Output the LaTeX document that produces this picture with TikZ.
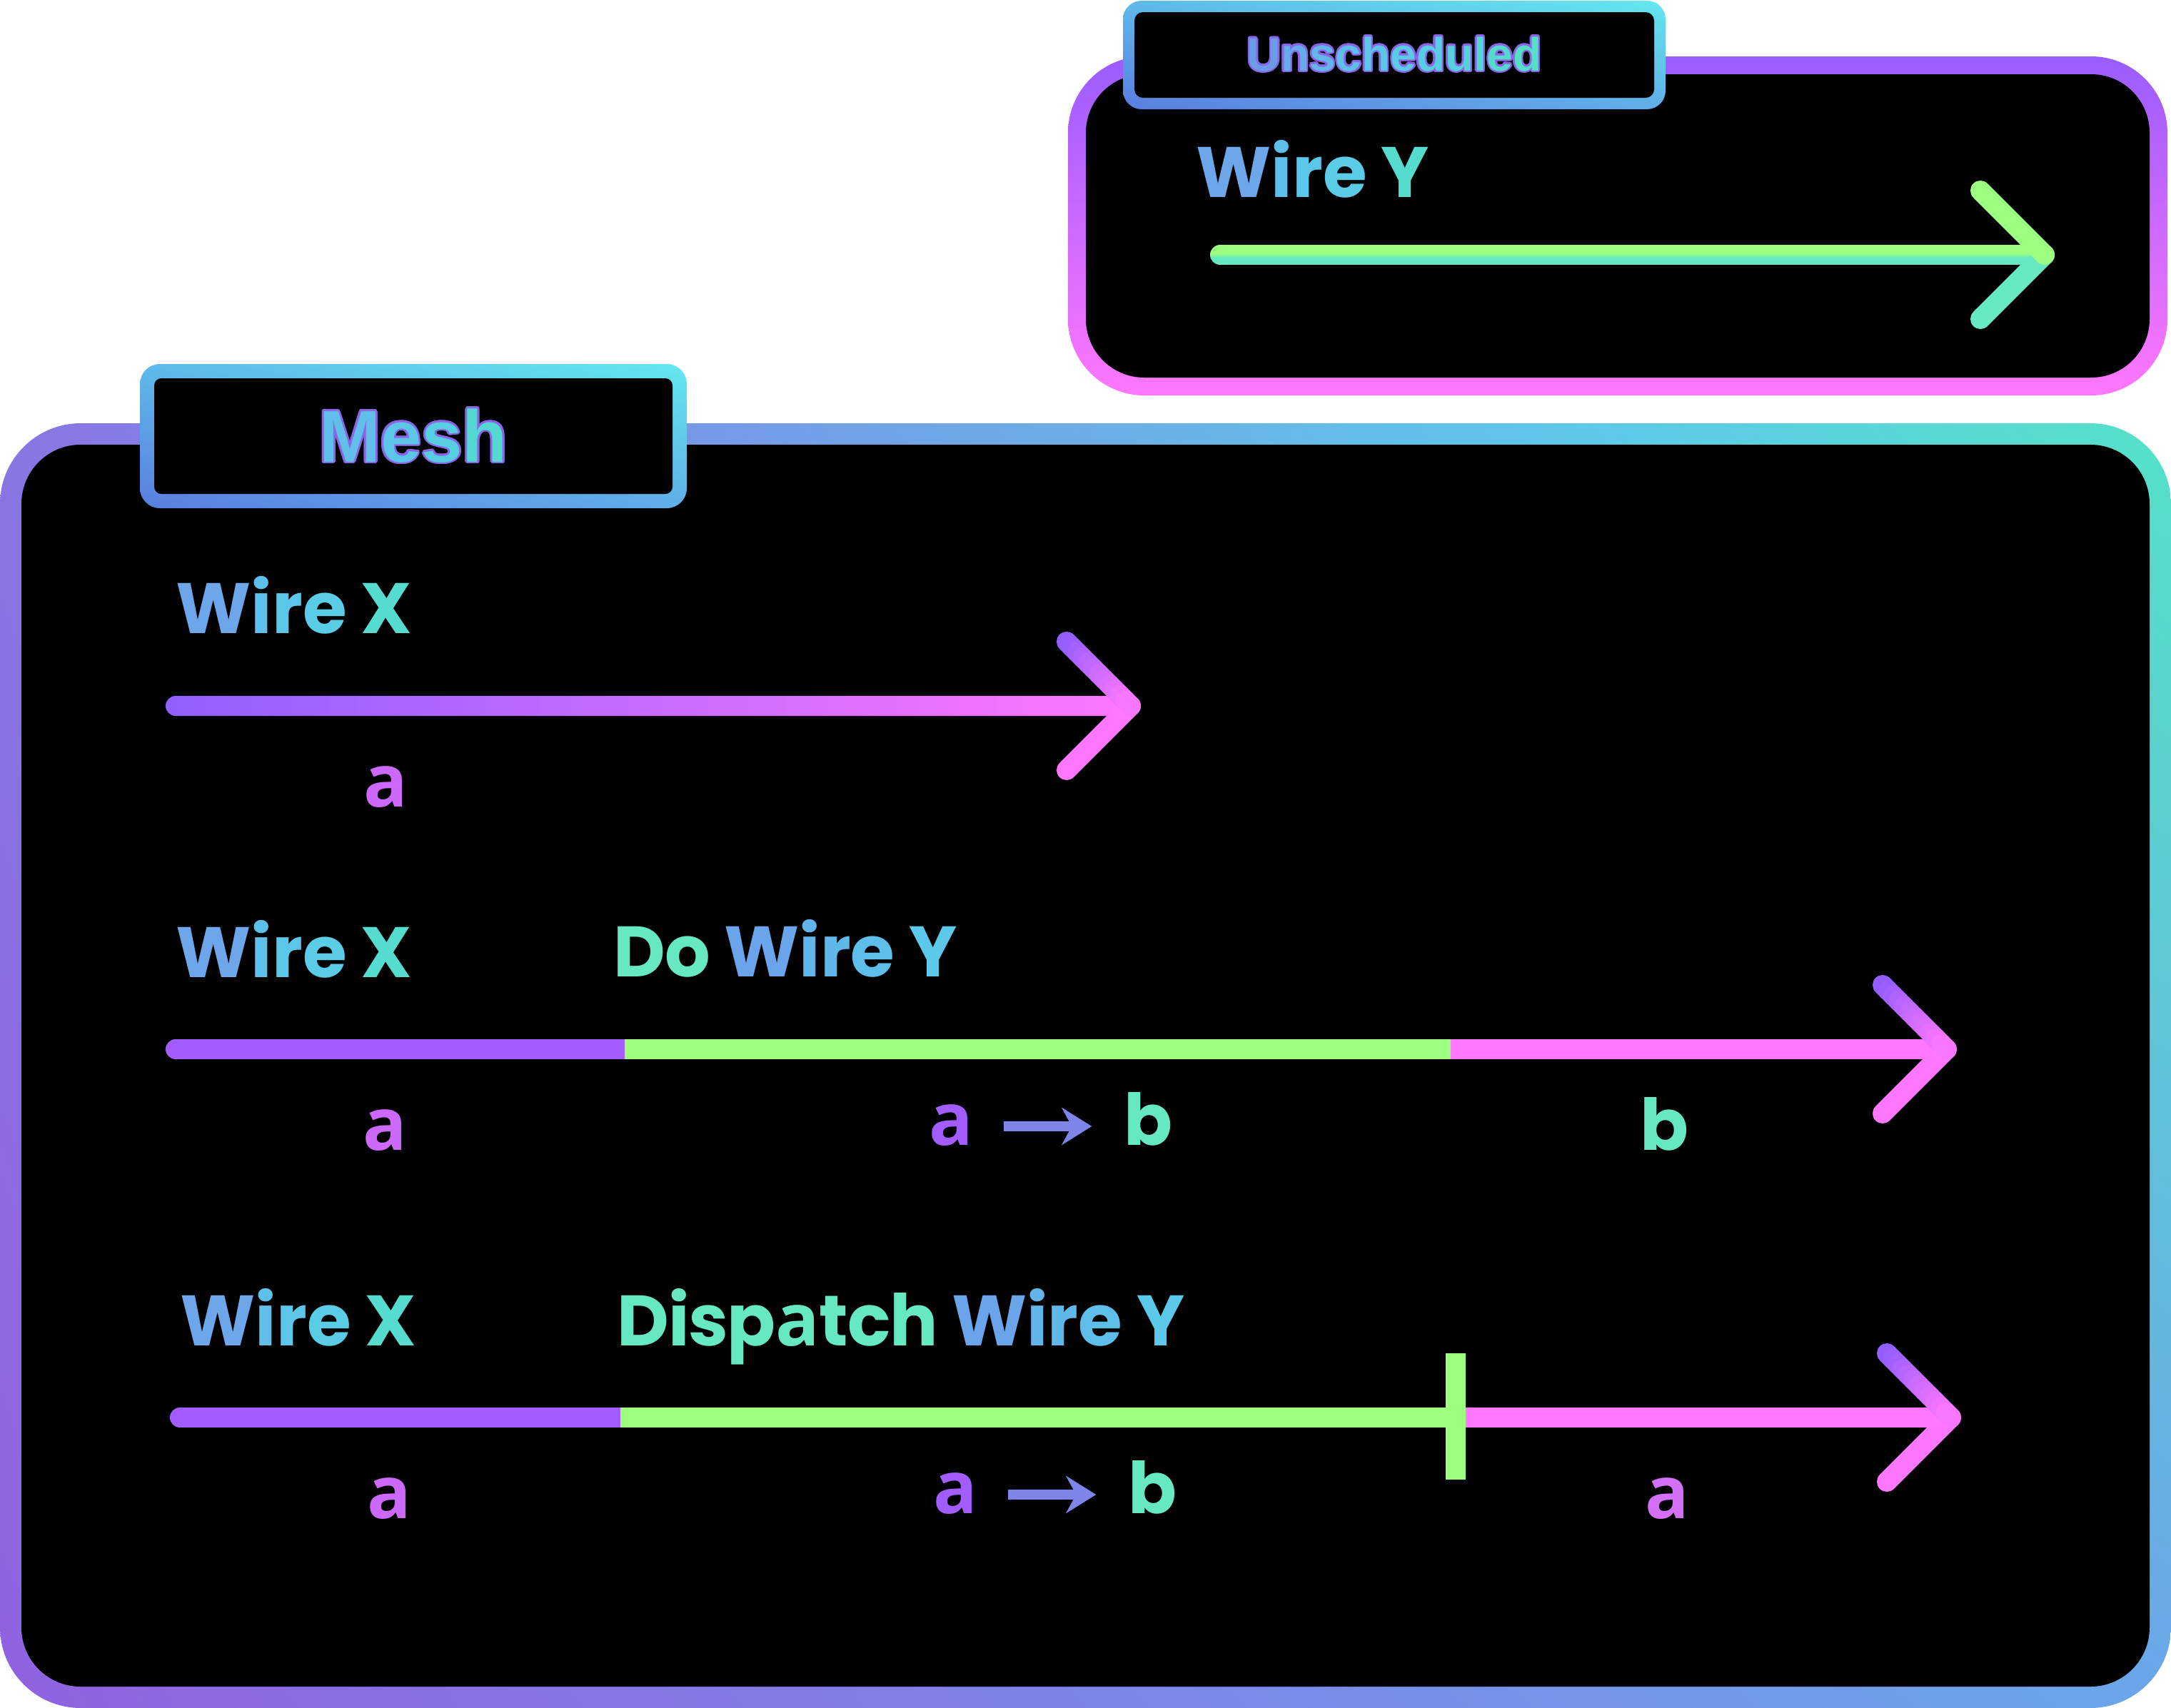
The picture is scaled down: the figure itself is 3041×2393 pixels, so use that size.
\documentclass[tikz,border=0pt]{standalone}
\usepackage{fontspec}
\setmainfont{Poppins}[LetterSpace=-1.5]
\newfontfamily\afont{Open Sans}[Scale=1.02]
\newfontfamily\tabfont{Liberation Sans}
\usetikzlibrary{arrows.meta,calc,shadings}

\definecolor{cPurple}{HTML}{A35CFF}
\definecolor{cPurpleB}{HTML}{8E5CFF}
\definecolor{cPink}{HTML}{FF77FF}
\definecolor{cGreen}{HTML}{9CFF80}
\definecolor{cTeal}{HTML}{66E8C0}
\definecolor{cLilac}{HTML}{CC68FA}
\definecolor{cLilacB}{HTML}{D470F8}
\definecolor{cArr}{HTML}{7E84E8}
\definecolor{lnA}{HTML}{9060FF}
\definecolor{cOutline}{HTML}{8A66E6}
% tabs
\definecolor{tUL}{HTML}{5EBAEA}
\definecolor{tUR}{HTML}{63E8EE}
\definecolor{tLL}{HTML}{5A7EE0}
\definecolor{tLR}{HTML}{60AEE8}
% mesh box
\definecolor{mUL}{HTML}{8876E2}
\definecolor{mUM}{HTML}{5EC8EA}
\definecolor{mUR}{HTML}{55E2C6}
\definecolor{mLL}{HTML}{9062E0}
\definecolor{mLM}{HTML}{7594E8}
\definecolor{mLR}{HTML}{6AA6EA}
% unscheduled box
\definecolor{uTop}{HTML}{9B5CFF}
\definecolor{uBot}{HTML}{FF77FF}
% letter colours
\definecolor{wW}{HTML}{6EA6EA}
\definecolor{wI}{HTML}{5EC0EA}
\definecolor{wR}{HTML}{5CC6E8}
\definecolor{wE}{HTML}{5ACCE6}
\definecolor{wX}{HTML}{56DCCE}
\definecolor{yW}{HTML}{6AA4EA}
\definecolor{yI}{HTML}{62B4EA}
\definecolor{yR}{HTML}{60B8EA}
\definecolor{yE}{HTML}{5EBEEA}
\definecolor{yY}{HTML}{5CC8EA}

\newcommand\ga{{\afont a}}
\newcommand\wireX{\textcolor{wW}{W}\textcolor{wI}{i}\textcolor{wR}{r}\textcolor{wE}{e} \textcolor{wX}{X}}
\newcommand\wireYb{\textcolor{yW}{W}\textcolor{yI}{i}\textcolor{yR}{r}\textcolor{yE}{e} \textcolor{yY}{Y}}
\newcommand\wireYu{\textcolor{wW}{W}\textcolor{wI}{i}\textcolor{wR}{r}\textcolor{wE}{e} \textcolor{wX}{Y}}
\newcommand\meshC{\textcolor[HTML]{62BEEA}{M}\textcolor[HTML]{5CC6E8}{e}\textcolor[HTML]{58CEE2}{s}\textcolor[HTML]{54D8D2}{h}}
\newcommand\unschedC{\textcolor[HTML]{6C9CE8}{U}\textcolor[HTML]{66ACEA}{n}\textcolor[HTML]{62B8EA}{s}\textcolor[HTML]{5EC0EA}{c}\textcolor[HTML]{5CC6E8}{h}\textcolor[HTML]{5ACAE6}{e}\textcolor[HTML]{58CEE2}{d}\textcolor[HTML]{57D2DC}{u}\textcolor[HTML]{56D6D6}{l}\textcolor[HTML]{55DACE}{e}\textcolor[HTML]{55DEC8}{d}}

\tikzset{
  leg/.style={line width=0.28cm, line cap=round},
  wire/.style={line width=0.28cm},
  lbl/.style={font=\fontsize{28.45}{34}\selectfont\bfseries, inner sep=0pt, anchor=base west},
  val/.style={font=\fontsize{28.45}{34}\selectfont\bfseries, inner sep=0pt, anchor=base},
  tabM/.style={font=\tabfont\fontsize{29.3}{35}\selectfont\bfseries, inner sep=0pt, anchor=base},
  tabU/.style={font=\tabfont\fontsize{18.7}{22}\selectfont\bfseries, inner sep=0pt, anchor=base},
  smallarr/.style={line width=0.14cm, color=cArr, -{Stealth[length=0.42cm, width=0.52cm, inset=0.14cm]}},
  tabshade/.style={upper left=tUL, upper right=tUR, lower left=tLL, lower right=tLR}
}

\newcommand\gradleg[4]{%
  \foreach \i in {0,...,11}{%
    \pgfmathsetmacro\gA{\i/12}%
    \pgfmathsetmacro\gB{(\i+1)/12}%
    \pgfmathtruncatemacro\gP{100*(\i+0.5)/12}%
    \draw[leg, color=#4!\gP!#3] ($(#1)!\gA!(#2)$) -- ($(#1)!\gB!(#2)$);
  }}

\begin{document}
\begin{tikzpicture}[x=0.01cm, y=0.01cm]
\useasboundingbox[fill=white] (0,0) rectangle (3041,-2393);

% ---------------- Unscheduled box ----------------
\shade[top color=uTop, bottom color=uBot, rounded corners=1.07cm] (1496,-79) rectangle (3036,-554);
\fill[black, rounded corners=0.82cm] (1521,-104) rectangle (3011,-529);

\shade[tabshade, rounded corners=0.26cm] (1573,-1) rectangle (2333,-153);
\fill[black, rounded corners=0.12cm] (1589,-17) rectangle (2317,-137);
\foreach \a in {0,30,...,330}
  \node[tabU, text=cOutline] (uo\a) at ($(1953,-99)+(\a:2.5)$) {Unscheduled};
\node[tabU] (utitle) at (1953,-99) {\unschedC};

\node[lbl] (uwy) at (1675,-276) {\wireYu};
\coordinate (us) at (1709,-357);
\coordinate (ue) at (2864,-357);
\coordinate (ut) at (2774,-267);
\coordinate (ub) at (2774,-447);
\begin{scope}
  \clip[rounded corners=0.14cm] ($(us)+(-14,14)$) rectangle ($(ue)+(14,-14)$);
  \fill[cGreen] ($(us)+(-14,14)$) rectangle ($(ue)+(14,2)$);
  \fill[cTeal] ($(us)+(-14,-4)$) rectangle ($(ue)+(14,-14)$);
  \shade[top color=cGreen, bottom color=cTeal] ($(us)+(-14,2)$) rectangle ($(ue)+(14,-4)$);
\end{scope}
\draw[leg, cTeal] (ue) -- (ub);
\draw[leg, cGreen] (ut) -- (ue);

% ---------------- Mesh box ----------------
\begin{scope}
  \clip[rounded corners=1.13cm] (0,-593) rectangle (3041,-2393);
  \shade[upper left=mUL, upper right=mUM, lower left=mLL, lower right=mLM] (0,-593) rectangle (2213,-2393);
  \shade[upper left=mUM, upper right=mUR, lower left=mLM, lower right=mLR] (2211,-593) rectangle (3041,-2393);
\end{scope}
\fill[black, rounded corners=0.83cm] (30,-623) rectangle (3011,-2363);

\shade[tabshade, rounded corners=0.28cm] (196,-510) rectangle (962,-712);
\fill[black, rounded corners=0.1cm] (216,-530) rectangle (942,-692);
\foreach \a in {0,30,...,330}
  \node[tabM, text=cOutline] (mo\a) at ($(579,-647)+(\a:2.8)$) {Mesh};
\node[tabM] (mtitle) at (579,-647) {\meshC};

% ---------------- Row 1 ----------------
\node[lbl] (r1wx) at (246,-887) {\wireX};
\coordinate (r1s) at (246,-989);
\coordinate (r1e) at (1584,-989);
\coordinate (r1t) at (1494,-899);
\coordinate (r1b) at (1494,-1079);
\shade[left color=lnA, right color=cPink, rounded corners=0.14cm] ($(r1s)+(-14,14)$) rectangle ($(r1e)+(14,-14)$);
\draw[leg, cPink] (r1e) -- (r1b);
\gradleg{r1t}{r1e}{cPurpleB}{cPink}
\node[val, text=cLilac] (r1a) at (540,-1130) {\ga};

% ---------------- Row 2 ----------------
\node[lbl] (r2wx) at (246,-1369) {\wireX};
\node[lbl] (r2do) at (859,-1368) {\textcolor{cTeal}{Do} \wireYb};
\coordinate (r2s) at (246,-1470);
\coordinate (r2p) at (875,-1470);
\coordinate (r2g) at (2032,-1470);
\coordinate (r2e) at (2727,-1470);
\coordinate (r2t) at (2637,-1380);
\coordinate (r2b) at (2637,-1560);
\draw[wire, line cap=round, cPurple] (r2s) -- (r2p);
\draw[wire, cGreen] (r2p) -- (r2g);
\draw[wire, cPink] (r2g) -- (r2e);
\draw[leg, cPink] (r2e) -- (r2b);
\gradleg{r2t}{r2e}{cPurpleB}{cPink}
\node[val, text=cLilac] (r2a) at (539,-1611) {\ga};
\node[val, text=cPurple] (r2ma) at (1332,-1604) {\ga};
\node[val, text=cTeal] (r2mb) at (1608,-1604) {b};
\draw[smallarr] ($(r2ma.base east)+(42,26)$) -- ($(r2mb.base west)+(-44,26)$);
\node[val, text=cTeal] (r2b2) at (2331,-1611) {b};

% ---------------- Row 3 ----------------
\node[lbl] (r3wx) at (252,-1885) {\wireX};
\node[lbl] (r3dw) at (864,-1885) {\textcolor{cTeal}{Disp\ga tch} \wireYb};
\coordinate (r3s) at (252,-1986);
\coordinate (r3p) at (869,-1986);
\coordinate (r3g) at (2025,-1986);
\coordinate (r3k) at (2053,-1986);
\coordinate (r3e) at (2733,-1986);
\coordinate (r3t) at (2643,-1896);
\coordinate (r3b) at (2643,-2076);
\draw[wire, line cap=round, cPurple] (r3s) -- (r3p);
\draw[wire, cGreen] (r3p) -- (r3g);
\draw[wire, cPink] (r3k) -- (r3e);
\fill[cGreen] (2025,-1896) rectangle (2053,-2073);
\draw[leg, cPink] (r3e) -- (r3b);
\gradleg{r3t}{r3e}{cPurpleB}{cPink}
\node[val, text=cLilac] (r3a) at (545,-2127) {\ga};
\node[val, text=cPurple] (r3ma) at (1338,-2120) {\ga};
\node[val, text=cTeal] (r3mb) at (1614,-2120) {b};
\draw[smallarr] ($(r3ma.base east)+(42,26)$) -- ($(r3mb.base west)+(-44,26)$);
\node[val, text=cLilacB] (r3a2) at (2335,-2127) {\ga};
\end{tikzpicture}
\end{document}
